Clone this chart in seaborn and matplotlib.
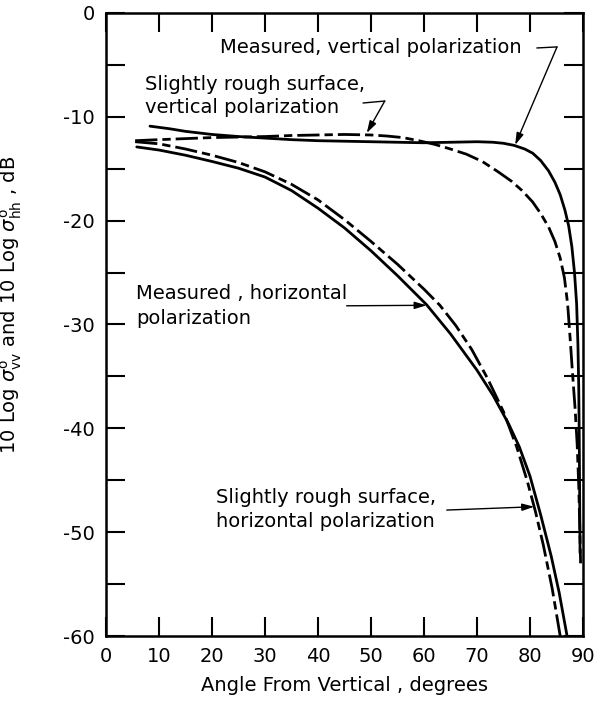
import matplotlib
matplotlib.use("Agg")
import matplotlib.pyplot as plt
from matplotlib.ticker import MultipleLocator
import seaborn as sns
import pandas as pd

# ---- data ----
meas_v_angle = [8.3, 12, 15, 20, 25, 30, 35, 40, 45, 50, 55, 60, 65, 70, 73, 75, 77, 79,
                80.5, 82, 83.5, 84.7, 85.7, 86.6, 87.3, 87.9, 88.4, 88.8, 89.05, 89.2, 89.3, 89.38, 89.45]
meas_v_db = [-10.9, -11.15, -11.4, -11.7, -11.9, -12.05, -12.2, -12.3, -12.35, -12.4, -12.45, -12.5,
             -12.45, -12.4, -12.45, -12.55, -12.75, -13.1, -13.5, -14.2, -15.2, -16.3, -17.5, -19.0,
             -20.5, -22.5, -25, -28, -32, -36, -41, -47, -52]

rough_v_angle = [5.5, 10, 15, 20, 25, 30, 35, 40, 45, 50, 53, 56, 59, 62, 65, 68, 71, 74, 76.5,
                 78.5, 80.5, 82, 83.5, 84.7, 85.7, 86.5, 87.1, 87.6, 88.0, 88.5, 88.9, 89.2, 89.4, 89.55]
rough_v_db = [-12.3, -12.2, -12.1, -12.0, -11.95, -11.9, -11.8, -11.75, -11.7, -11.75, -11.85, -12.0,
              -12.3, -12.65, -13.1, -13.6, -14.3, -15.3, -16.2, -17.1, -18.2, -19.3, -20.6, -22.0,
              -23.6, -25.5, -28, -31.5, -34.5, -38, -41.5, -45.5, -49.5, -53]

meas_h_angle = [5.8, 10, 15, 20, 25, 30, 35, 40, 45, 50, 55, 60.5, 65, 70, 73, 76, 78, 80,
                82, 84, 85.5, 87.0]
meas_h_db = [-12.9, -13.2, -13.7, -14.3, -14.95, -15.8, -17.1, -18.8, -20.7, -22.9, -25.3,
             -28.1, -30.9, -34.4, -36.8, -39.6, -41.8, -44.6, -48.3, -52.3, -55.8, -60]

rough_h_angle = [5.5, 10, 15, 20, 25, 30, 35, 40, 45, 50, 55, 60, 63, 66, 69, 72, 75, 77.5,
                 79.5, 81, 82.5, 84.2, 85.7]
rough_h_db = [-12.4, -12.6, -13.1, -13.7, -14.4, -15.3, -16.5, -18.0, -19.9, -22.0, -24.2, -26.6,
              -28.15, -30.1, -32.4, -35.2, -38.4, -41.8, -45.1, -47.95, -51.2, -55.45, -60]

x_ticks = [0, 10, 20, 30, 40, 50, 60, 70, 80, 90]
y_ticks = [-60, -50, -40, -30, -20, -10, 0]

sns.set_style("ticks")
plt.rcParams["font.family"] = ["DejaVu Sans"]
plt.rcParams["mathtext.fontset"] = "dejavusans"
plt.rcParams["axes.unicode_minus"] = False
plt.rcParams["text.color"] = "black"
plt.rcParams["axes.labelcolor"] = "black"

fig = plt.figure(figsize=(6.1, 7.01), dpi=100)
ax = fig.add_axes([0.1738, 0.0927, 0.7819, 0.8888])

dash = (8, 1.8, 3, 1.8)
curves = [
    (meas_v_angle, meas_v_db, None),
    (rough_v_angle, rough_v_db, dash),
    (meas_h_angle, meas_h_db, None),
    (rough_h_angle, rough_h_db, dash),
]
for xs, ys, d in curves:
    df = pd.DataFrame({"angle": xs, "db": ys})
    sns.lineplot(data=df, x="angle", y="db", ax=ax, color="black", lw=2,
                 sort=False, estimator=None)
    line = ax.lines[-1]
    line.set_solid_joinstyle("round")
    line.set_dash_joinstyle("round")
    if d is not None:
        line.set_dashes(d)

ax.set_xlim(0, 90)
ax.set_ylim(-60, 0)
ax.set_xticks(x_ticks)
ax.set_yticks(y_ticks)
ax.yaxis.set_minor_locator(MultipleLocator(5))
ax.tick_params(which="both", direction="in", length=14, width=1.5,
               top=True, right=True, labelsize=14, colors="black")
ax.tick_params(axis="x", pad=8)
ax.tick_params(axis="y", pad=8)
for s in ax.spines.values():
    s.set_linewidth(1.8)
    s.set_color("black")

ax.set_ylabel(r"10 Log $\sigma^{\mathrm{o}}_{\mathrm{vv}}$ and 10 Log $\sigma^{\mathrm{o}}_{\mathrm{hh}}$ , dB",
              fontsize=14, color="black")
ax.yaxis.set_label_coords(-0.172, 0.531)
ax.set_xlabel("Angle From Vertical , degrees", fontsize=14, color="black")
ax.xaxis.set_label_coords(0.5, -0.064)

tkw = dict(fontsize=14, ha="left", va="baseline", color="black")
ax.text(21.5, -3.9, "Measured, vertical polarization", **tkw)
ax.text(7.36, -7.42, "Slightly rough surface,", **tkw)
ax.text(7.36, -9.63, "vertical polarization", **tkw)
ax.text(5.66, -27.55, "Measured , horizontal", **tkw)
ax.text(5.66, -29.95, "polarization", **tkw)
ax.text(20.75, -47.16, "Slightly rough surface,", **tkw)
ax.text(20.75, -49.47, "horizontal polarization", **tkw)

aprops = dict(arrowstyle="-|>,head_length=0.6,head_width=0.18", color="black",
              lw=1.0, shrinkA=0, shrinkB=0, mutation_scale=12)
# measured vertical leader
ax.plot([81.3, 85.1], [-3.37, -3.27], color="black", lw=1.0)
ax.annotate("", xy=(77.2, -12.71), xytext=(85.1, -3.27), arrowprops=aprops)
# rough vertical leader
ax.plot([48.5, 52.6], [-8.67, -8.48], color="black", lw=1.0)
ax.annotate("", xy=(49.2, -11.56), xytext=(52.6, -8.48), arrowprops=aprops)
# measured horizontal
ax.annotate("", xy=(60.5, -28.15), xytext=(45.4, -28.2), arrowprops=aprops)
# rough horizontal
ax.annotate("", xy=(80.8, -47.55), xytext=(64.3, -47.87), arrowprops=aprops)

fig.savefig("out.png", dpi=100)
